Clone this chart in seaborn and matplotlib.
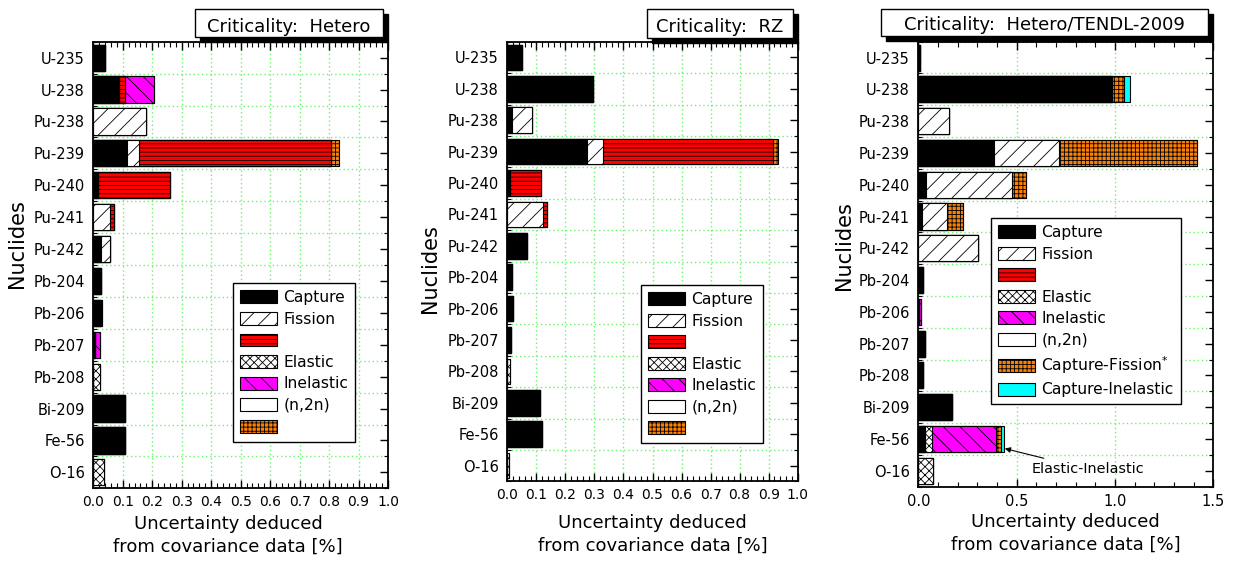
import matplotlib
matplotlib.use("Agg")
import numpy as np
import pandas as pd
import matplotlib.pyplot as plt
from matplotlib.patches import Patch, Rectangle
from matplotlib.ticker import MultipleLocator, FormatStrFormatter
import seaborn as sns

# ---------------- data ----------------
nuclides = ['U-235', 'U-238', 'Pu-238', 'Pu-239', 'Pu-240', 'Pu-241', 'Pu-242',
            'Pb-204', 'Pb-206', 'Pb-207', 'Pb-208', 'Bi-209', 'Fe-56', 'O-16']

comp_keys = ['capture', 'fission', 'red', 'elastic', 'inelastic', 'n2n', 'capfis', 'capinel']

# Panel 1: Criticality: Hetero
het_capture   = [0.039, 0.087, 0.000, 0.114, 0.016, 0.000, 0.027, 0.025, 0.027, 0.006, 0.000, 0.106, 0.108, 0.000]
het_fission   = [0.000, 0.000, 0.179, 0.040, 0.000, 0.057, 0.030, 0.000, 0.000, 0.000, 0.000, 0.000, 0.000, 0.000]
het_red       = [0.000, 0.019, 0.000, 0.654, 0.245, 0.013, 0.000, 0.000, 0.000, 0.000, 0.000, 0.000, 0.000, 0.000]
het_elastic   = [0.000, 0.000, 0.000, 0.000, 0.000, 0.000, 0.000, 0.000, 0.000, 0.000, 0.022, 0.000, 0.000, 0.036]
het_inelastic = [0.000, 0.100, 0.000, 0.000, 0.000, 0.000, 0.000, 0.000, 0.004, 0.017, 0.000, 0.000, 0.000, 0.000]
het_n2n       = [0.000, 0.000, 0.000, 0.000, 0.000, 0.000, 0.000, 0.000, 0.000, 0.000, 0.000, 0.000, 0.000, 0.000]
het_capfis    = [0.000, 0.000, 0.000, 0.025, 0.000, 0.000, 0.000, 0.000, 0.000, 0.000, 0.000, 0.000, 0.000, 0.000]
het_capinel   = [0.000, 0.000, 0.000, 0.000, 0.000, 0.000, 0.000, 0.000, 0.000, 0.000, 0.000, 0.000, 0.000, 0.000]

# Panel 2: Criticality: RZ
rz_capture   = [0.050, 0.294, 0.017, 0.273, 0.010, 0.000, 0.067, 0.017, 0.020, 0.013, 0.000, 0.111, 0.121, 0.000]
rz_fission   = [0.000, 0.000, 0.067, 0.057, 0.000, 0.124, 0.000, 0.000, 0.000, 0.000, 0.000, 0.000, 0.000, 0.000]
rz_red       = [0.000, 0.000, 0.000, 0.586, 0.106, 0.014, 0.000, 0.000, 0.000, 0.000, 0.000, 0.000, 0.000, 0.000]
rz_elastic   = [0.000, 0.000, 0.000, 0.000, 0.000, 0.000, 0.000, 0.000, 0.000, 0.000, 0.008, 0.000, 0.000, 0.006]
rz_inelastic = [0.000, 0.000, 0.000, 0.000, 0.000, 0.000, 0.000, 0.000, 0.000, 0.000, 0.000, 0.000, 0.000, 0.000]
rz_n2n       = [0.000, 0.000, 0.000, 0.000, 0.000, 0.000, 0.000, 0.000, 0.000, 0.000, 0.000, 0.000, 0.000, 0.000]
rz_capfis    = [0.000, 0.000, 0.000, 0.015, 0.000, 0.000, 0.000, 0.000, 0.000, 0.000, 0.000, 0.000, 0.000, 0.000]
rz_capinel   = [0.000, 0.000, 0.000, 0.000, 0.000, 0.000, 0.000, 0.000, 0.000, 0.000, 0.000, 0.000, 0.000, 0.000]

# Panel 3: Criticality: Hetero/TENDL-2009
ten_capture   = [0.009, 0.983, 0.000, 0.383, 0.038, 0.017, 0.000, 0.024, 0.004, 0.034, 0.025, 0.173, 0.034, 0.000]
ten_fission   = [0.000, 0.000, 0.156, 0.334, 0.437, 0.127, 0.302, 0.000, 0.000, 0.000, 0.000, 0.000, 0.000, 0.000]
ten_red       = [0.000, 0.000, 0.000, 0.000, 0.000, 0.000, 0.000, 0.000, 0.000, 0.000, 0.000, 0.000, 0.000, 0.000]
ten_elastic   = [0.000, 0.000, 0.000, 0.000, 0.000, 0.000, 0.000, 0.000, 0.000, 0.000, 0.000, 0.000, 0.034, 0.075]
ten_inelastic = [0.000, 0.000, 0.000, 0.000, 0.000, 0.000, 0.000, 0.000, 0.010, 0.000, 0.000, 0.000, 0.325, 0.000]
ten_n2n       = [0.000, 0.000, 0.000, 0.000, 0.000, 0.000, 0.000, 0.000, 0.000, 0.000, 0.000, 0.000, 0.000, 0.000]
ten_capfis    = [0.000, 0.061, 0.000, 0.701, 0.074, 0.082, 0.000, 0.000, 0.000, 0.000, 0.000, 0.000, 0.027, 0.000]
ten_capinel   = [0.000, 0.032, 0.000, 0.000, 0.000, 0.000, 0.000, 0.000, 0.000, 0.000, 0.000, 0.000, 0.017, 0.000]

titles = ['Criticality:  Hetero', 'Criticality:  RZ', 'Criticality:  Hetero/TENDL-2009']
legend_labels_12 = ['Capture', 'Fission', '', 'Elastic', 'Inelastic', '(n,2n)', '']
legend_labels_3 = ['Capture', 'Fission', '', 'Elastic', 'Inelastic', '(n,2n)',
                   'Capture-Fission$^{*}$', 'Capture-Inelastic']
xlabel = 'Uncertainty deduced\nfrom covariance data [%]'

# ---------------- styling ----------------
styles = {
    'capture':   dict(color='#000000', hatch=None),
    'fission':   dict(color='#ffffff', hatch='//'),
    'red':       dict(color='#ff0000', hatch='----'),
    'elastic':   dict(color='#ffffff', hatch='xxxx'),
    'inelastic': dict(color='#ff00ff', hatch='\\\\'),
    'n2n':       dict(color='#ffffff', hatch=None),
    'capfis':    dict(color='#ff8000', hatch='++++'),
    'capinel':   dict(color='#00ffff', hatch=None),
}

sns.set_theme(style="ticks")
plt.rcParams['font.family'] = ['DejaVu Sans']
plt.rcParams['hatch.linewidth'] = 0.6
plt.rcParams['axes.edgecolor'] = 'black'
plt.rcParams['xtick.color'] = 'black'
plt.rcParams['ytick.color'] = 'black'
plt.rcParams['text.color'] = 'black'
plt.rcParams['axes.labelcolor'] = 'black'

W, H = 1237, 562
fig = plt.figure(figsize=(W / 100, H / 100), dpi=100)
fig.patch.set_facecolor('white')


def px_axes(x0, y0, x1, y1):
    return fig.add_axes([x0 / W, 1 - y1 / H, (x1 - x0) / W, (y1 - y0) / H])


def draw_panel(ax, segs):
    vals = np.array([segs[k] for k in comp_keys]).T
    cum = np.cumsum(vals, axis=1)
    for k in reversed(range(len(comp_keys))):
        if not np.any(vals[:, k] > 0):
            continue
        st = styles[comp_keys[k]]
        df = pd.DataFrame({'Nuclide': nuclides, 'value': cum[:, k]})
        sns.barplot(data=df, x='value', y='Nuclide', orient='h', ax=ax,
                    color=st['color'], saturation=1, width=0.82, errorbar=None,
                    edgecolor='black', linewidth=0.8, hatch=st['hatch'])


def style_axes(ax, xmax, major, minor, xls):
    n = len(nuclides)
    ax.set_xlim(0, xmax)
    ax.set_ylim(n - 0.5, -0.5)
    ax.xaxis.set_major_locator(MultipleLocator(major))
    ax.xaxis.set_minor_locator(MultipleLocator(minor))
    ax.xaxis.set_major_formatter(FormatStrFormatter('%.1f'))
    ax.set_yticks(np.arange(n))
    ax.set_yticklabels(nuclides)
    ax.set_yticks(np.arange(-0.5, n, 1.0), minor=True)
    ax.tick_params(axis='x', which='both', direction='in', top=True, bottom=True,
                   labelsize=xls, pad=5)
    ax.tick_params(axis='x', which='major', length=6, width=1)
    ax.tick_params(axis='x', which='minor', length=3.5, width=0.8)
    ax.tick_params(axis='y', which='major', left=False, right=True, direction='in',
                   length=6, width=1, labelsize=10.5, pad=6)
    ax.tick_params(axis='y', which='minor', left=True, right=True, direction='in',
                   length=3, width=0.8)
    ax.grid(False)
    ax.grid(True, axis='x', which='major', color='#70f070', linestyle=(0, (1, 2)), linewidth=1)
    ax.grid(True, axis='y', which='minor', color='#70f070', linestyle=(0, (1, 2)), linewidth=1)
    ax.set_axisbelow(True)
    for sp in ax.spines.values():
        sp.set_visible(True)
        sp.set_linewidth(1.3)
        sp.set_color('black')
    ax.set_facecolor('white')


def legend_handles(keys):
    return [Patch(facecolor=styles[k]['color'], edgecolor='black', hatch=styles[k]['hatch'],
                  linewidth=0.8) for k in keys]


def title_box(x0, y0, x1, y1, text):
    fig.add_artist(Rectangle(((x0 + 5) / W, 1 - (y1 + 5) / H), (x1 - x0) / W, (y1 - y0) / H,
                             transform=fig.transFigure, facecolor='black', edgecolor='black'))
    fig.add_artist(Rectangle((x0 / W, 1 - y1 / H), (x1 - x0) / W, (y1 - y0) / H,
                             transform=fig.transFigure, facecolor='white', edgecolor='black',
                             linewidth=1))
    fig.text((x0 + x1) / 2 / W, 1 - (y1 - 5.5) / H, text, ha='center', va='baseline',
             fontsize=13)


panels = [
    dict(segs=dict(capture=het_capture, fission=het_fission, red=het_red, elastic=het_elastic,
                   inelastic=het_inelastic, n2n=het_n2n, capfis=het_capfis, capinel=het_capinel),
         box=(93.3, 41.7, 388, 488.3), xmax=1.0, major=0.1, minor=0.02, xls=10,
         title_px=(195, 9, 383, 37), ylab=(-0.259, 0.549), xlab=(0.457, -0.060),
         leg_keys=comp_keys[:7], leg_labels=legend_labels_12, leg_xy=(232.7, 283.3)),
    dict(segs=dict(capture=rz_capture, fission=rz_fission, red=rz_red, elastic=rz_elastic,
                   inelastic=rz_inelastic, n2n=rz_n2n, capfis=rz_capfis, capinel=rz_capinel),
         box=(507.3, 41.7, 797.7, 481.3), xmax=1.0, major=0.1, minor=0.02, xls=10,
         title_px=(647, 9, 793, 38), ylab=(-0.266, 0.485), xlab=(0.5, -0.075),
         leg_keys=comp_keys[:7], leg_labels=legend_labels_12, leg_xy=(641, 285)),
    dict(segs=dict(capture=ten_capture, fission=ten_fission, red=ten_red, elastic=ten_elastic,
                   inelastic=ten_inelastic, n2n=ten_n2n, capfis=ten_capfis, capinel=ten_capinel),
         box=(918.3, 41.7, 1213.3, 486.7), xmax=1.5, major=0.5, minor=0.1, xls=10.5,
         title_px=(881, 9, 1208, 36), ylab=(-0.252, 0.543), xlab=(0.5, -0.058),
         leg_keys=comp_keys, leg_labels=legend_labels_3, leg_xy=(990.7, 218)),
]

axes = []
for i, p in enumerate(panels):
    ax = px_axes(*p['box'])
    draw_panel(ax, p['segs'])
    style_axes(ax, p['xmax'], p['major'], p['minor'], p['xls'])
    ax.set_ylabel('Nuclides', fontsize=15, va='center')
    ax.yaxis.set_label_coords(*p['ylab'])
    ax.set_xlabel(xlabel, fontsize=13, linespacing=1.35, va='top')
    ax.xaxis.set_label_coords(*p['xlab'])
    leg = ax.legend(legend_handles(p['leg_keys']), p['leg_labels'], loc='upper left',
                    bbox_to_anchor=(p['leg_xy'][0] / W, 1 - p['leg_xy'][1] / H),
                    bbox_transform=fig.transFigure, borderaxespad=0, fontsize=11.2,
                    frameon=True, fancybox=False, framealpha=1, edgecolor='black',
                    handlelength=2.4, handleheight=0.9, labelspacing=0.42,
                    handletextpad=0.4, borderpad=0.45)
    leg.get_frame().set_linewidth(1.0)
    title_box(*p['title_px'], titles[i])
    axes.append(ax)

# annotation in panel 3
axes[2].annotate('Elastic-Inelastic', xy=(0.44, 12.3), xytext=(0.575, 12.95),
                 fontsize=10.4, ha='left', va='center',
                 arrowprops=dict(arrowstyle='-|>', color='black', lw=0.8, mutation_scale=8,
                                 shrinkA=2, shrinkB=0))

fig.savefig('out.png', dpi=100, facecolor='white')
